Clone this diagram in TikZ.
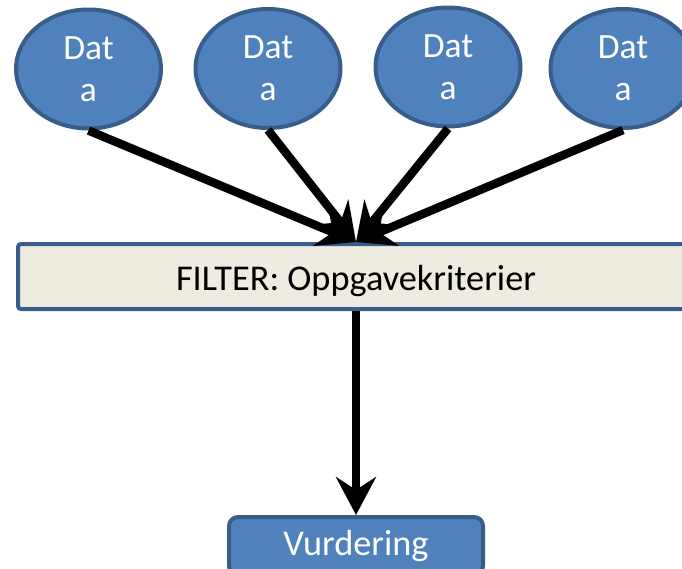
\documentclass[tikz,border=0pt]{standalone}
\usepackage{fontspec}
\setmainfont{Carlito}
\usetikzlibrary{arrows.meta,shapes.geometric}
\definecolor{boxblue}{HTML}{4F81BD}
\definecolor{edgeblue}{HTML}{385D8A}
\definecolor{filterfill}{HTML}{EEECE1}
\tikzset{
  databubble/.style={ellipse, draw=edgeblue, fill=boxblue, line width=4pt,
    minimum width=145pt, minimum height=119pt, inner sep=0pt, text=white,
    align=center, font=\fontsize{35.5}{42}\selectfont},
  filterbox/.style={rectangle, rounded corners=3pt, draw=edgeblue, fill=filterfill,
    line width=4pt, minimum width=676pt, minimum height=65pt, inner sep=0pt,
    text height=27pt, text depth=0pt,
    font=\fontsize{36.3}{42}\selectfont},
  resultbox/.style={rectangle, rounded corners=9pt, draw=edgeblue, fill=boxblue,
    line width=4pt, minimum width=254pt, minimum height=58pt, inner sep=0pt,
    text=white, font=\fontsize{36.3}{42}\selectfont},
  flow/.style={line width=8.5pt, -{Stealth[length=38pt, width=40pt, inset=13pt]}}
}
\begin{document}
\begin{tikzpicture}[x=1pt, y=-1pt]
\useasboundingbox (0,0) rectangle (682,568);
\node[databubble] (e1) at (88.5,69) {Dat\\a};
\node[databubble] (e2) at (268,68.5) {Dat\\a};
\node[databubble] (e3) at (448,67) {Dat\\a};
\node[databubble] (e4) at (623,68.5) {Dat\\a};
\node[filterbox] (f) at (356,276.5) {FILTER: Oppgavekriterier};
\node[resultbox] (v) at (356,546) {Vurdering};
\coordinate (ftop) at (f.north -| v.north);
\coordinate (fbot) at (f.south -| v.north);
\draw[flow] (e1.south) -- (ftop);
\draw[flow] (e2.south) -- (ftop);
\draw[flow] (e3.south) -- (ftop);
\draw[flow] (e4.south) -- (ftop);
\draw[flow] (fbot) -- (v.north);
\end{tikzpicture}
\end{document}
